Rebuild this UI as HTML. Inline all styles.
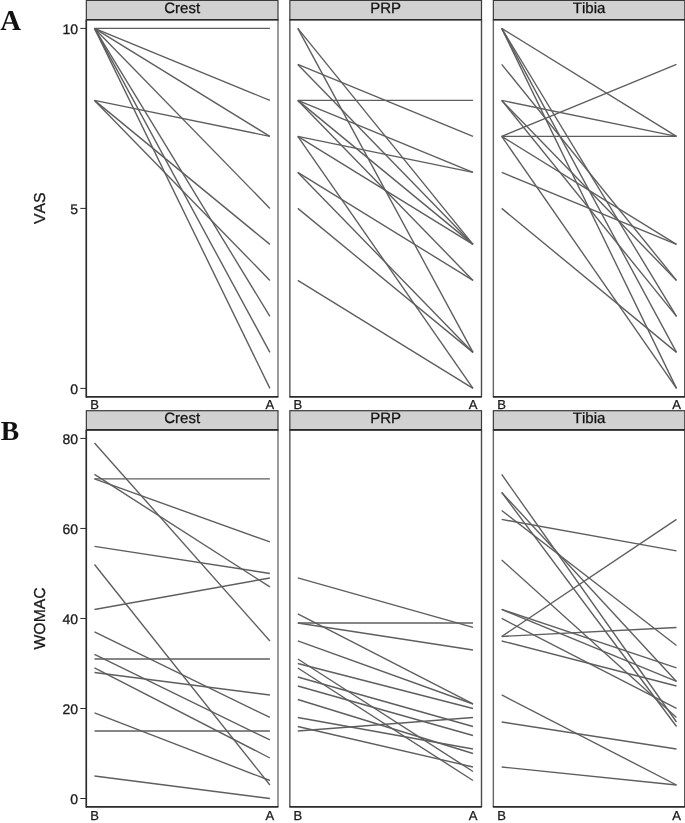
<!DOCTYPE html>
<html><head><meta charset="utf-8"><title>Figure</title>
<style>html,body{margin:0;padding:0;background:#fff}svg{display:block}text{font-family:"Liberation Sans",Arial,sans-serif;fill:#1a1a1a;text-rendering:geometricPrecision;font-kerning:none;stroke:#1a1a1a;stroke-width:0.3px}</style></head><body>
<svg width="685" height="823" viewBox="0 0 685 823">
<rect width="685" height="823" fill="#fff"/>
<g stroke="#5e5e5e" stroke-width="1.38" stroke-linecap="butt" fill="none">
<line x1="94.5" y1="28.40" x2="269.9" y2="28.40"/>
<line x1="94.5" y1="28.40" x2="269.9" y2="100.40"/>
<line x1="94.5" y1="28.40" x2="269.9" y2="136.40"/>
<line x1="94.5" y1="28.40" x2="269.9" y2="208.40"/>
<line x1="94.5" y1="28.40" x2="269.9" y2="316.40"/>
<line x1="94.5" y1="28.40" x2="269.9" y2="352.40"/>
<line x1="94.5" y1="28.40" x2="269.9" y2="388.40"/>
<line x1="94.5" y1="100.40" x2="269.9" y2="136.40"/>
<line x1="94.5" y1="100.40" x2="269.9" y2="244.40"/>
<line x1="94.5" y1="100.40" x2="269.9" y2="280.40"/>
</g>
<rect x="86.35" y="0.40" width="191.65" height="19.30" fill="#d1d1d1" stroke="#3a3a3a" stroke-width="1.2"/>
<line x1="86.35" y1="19.70" x2="86.35" y2="396.85" stroke="#2b2b2b" stroke-width="1.4"/>
<line x1="278.00" y1="19.70" x2="278.00" y2="396.85" stroke="#707070" stroke-width="1.4"/>
<line x1="85.95" y1="19.70" x2="278.40" y2="19.70" stroke="#2b2b2b" stroke-width="1.6"/>
<line x1="85.85" y1="396.85" x2="278.40" y2="396.85" stroke="#2b2b2b" stroke-width="1.7"/>
<line x1="86.35" y1="19.70" x2="86.35" y2="397.65" stroke="#2b2b2b" stroke-width="1.4"/>
<text x="182.2" y="12.7" font-size="15" text-anchor="middle" style="fill:#111">Crest</text>
<text x="94.5" y="408.9" font-size="13" text-anchor="middle">B</text>
<text x="269.9" y="408.9" font-size="13" text-anchor="middle">A</text>
<g stroke="#5e5e5e" stroke-width="1.38" stroke-linecap="butt" fill="none">
<line x1="297.8" y1="28.40" x2="473.0" y2="244.40"/>
<line x1="297.8" y1="28.40" x2="473.0" y2="352.40"/>
<line x1="297.8" y1="64.40" x2="473.0" y2="136.40"/>
<line x1="297.8" y1="64.40" x2="473.0" y2="244.40"/>
<line x1="297.8" y1="100.40" x2="473.0" y2="100.40"/>
<line x1="297.8" y1="100.40" x2="473.0" y2="172.40"/>
<line x1="297.8" y1="100.40" x2="473.0" y2="244.40"/>
<line x1="297.8" y1="100.40" x2="473.0" y2="280.40"/>
<line x1="297.8" y1="136.40" x2="473.0" y2="172.40"/>
<line x1="297.8" y1="136.40" x2="473.0" y2="244.40"/>
<line x1="297.8" y1="136.40" x2="473.0" y2="388.40"/>
<line x1="297.8" y1="172.40" x2="473.0" y2="280.40"/>
<line x1="297.8" y1="172.40" x2="473.0" y2="352.40"/>
<line x1="297.8" y1="208.40" x2="473.0" y2="352.40"/>
<line x1="297.8" y1="280.40" x2="473.0" y2="388.40"/>
</g>
<rect x="289.85" y="0.40" width="191.65" height="19.30" fill="#d1d1d1" stroke="#3a3a3a" stroke-width="1.2"/>
<line x1="289.85" y1="19.70" x2="289.85" y2="396.85" stroke="#555555" stroke-width="1.4"/>
<line x1="481.50" y1="19.70" x2="481.50" y2="396.85" stroke="#4a4a4a" stroke-width="1.4"/>
<line x1="289.45" y1="19.70" x2="481.90" y2="19.70" stroke="#2b2b2b" stroke-width="1.6"/>
<line x1="289.35" y1="396.85" x2="481.90" y2="396.85" stroke="#2b2b2b" stroke-width="1.7"/>
<text x="385.7" y="12.7" font-size="15" text-anchor="middle" style="fill:#111">PRP</text>
<text x="297.8" y="408.9" font-size="13" text-anchor="middle">B</text>
<text x="473.0" y="408.9" font-size="13" text-anchor="middle">A</text>
<g stroke="#5e5e5e" stroke-width="1.38" stroke-linecap="butt" fill="none">
<line x1="501.7" y1="28.40" x2="676.5" y2="136.40"/>
<line x1="501.7" y1="28.40" x2="676.5" y2="316.40"/>
<line x1="501.7" y1="28.40" x2="676.5" y2="352.40"/>
<line x1="501.7" y1="28.40" x2="676.5" y2="388.40"/>
<line x1="501.7" y1="64.40" x2="676.5" y2="280.40"/>
<line x1="501.7" y1="100.40" x2="676.5" y2="136.40"/>
<line x1="501.7" y1="100.40" x2="676.5" y2="280.40"/>
<line x1="501.7" y1="100.40" x2="676.5" y2="316.40"/>
<line x1="501.7" y1="136.40" x2="676.5" y2="64.40"/>
<line x1="501.7" y1="136.40" x2="676.5" y2="136.40"/>
<line x1="501.7" y1="136.40" x2="676.5" y2="244.40"/>
<line x1="501.7" y1="136.40" x2="676.5" y2="388.40"/>
<line x1="501.7" y1="172.40" x2="676.5" y2="244.40"/>
<line x1="501.7" y1="208.40" x2="676.5" y2="352.40"/>
</g>
<rect x="493.35" y="0.40" width="191.45" height="19.30" fill="#d1d1d1" stroke="#3a3a3a" stroke-width="1.2"/>
<line x1="493.35" y1="19.70" x2="493.35" y2="396.85" stroke="#666666" stroke-width="1.4"/>
<line x1="684.80" y1="19.70" x2="684.80" y2="396.85" stroke="#444444" stroke-width="1.4"/>
<line x1="492.95" y1="19.70" x2="685.20" y2="19.70" stroke="#2b2b2b" stroke-width="1.6"/>
<line x1="492.85" y1="396.85" x2="685.20" y2="396.85" stroke="#2b2b2b" stroke-width="1.7"/>
<text x="589.1" y="12.7" font-size="15" text-anchor="middle" style="fill:#111">Tibia</text>
<text x="501.7" y="408.9" font-size="13" text-anchor="middle">B</text>
<text x="676.5" y="408.9" font-size="13" text-anchor="middle">A</text>
<line x1="80.3" y1="388.40" x2="86.4" y2="388.40" stroke="#2b2b2b" stroke-width="1.0"/>
<text x="78.0" y="393.8" font-size="14" text-anchor="end">0</text>
<line x1="80.3" y1="208.40" x2="86.4" y2="208.40" stroke="#2b2b2b" stroke-width="1.0"/>
<text x="78.0" y="213.7" font-size="14" text-anchor="end">5</text>
<line x1="80.3" y1="28.40" x2="86.4" y2="28.40" stroke="#2b2b2b" stroke-width="1.0"/>
<text x="78.0" y="33.7" font-size="14" text-anchor="end">10</text>
<text transform="translate(44.9,208.3) rotate(-90)" font-size="15.8" text-anchor="middle">VAS</text>
<g stroke="#5e5e5e" stroke-width="1.38" stroke-linecap="butt" fill="none">
<line x1="94.5" y1="442.92" x2="269.9" y2="640.96"/>
<line x1="94.5" y1="474.43" x2="269.9" y2="586.95"/>
<line x1="94.5" y1="478.93" x2="269.9" y2="478.93"/>
<line x1="94.5" y1="478.93" x2="269.9" y2="541.94"/>
<line x1="94.5" y1="546.44" x2="269.9" y2="573.45"/>
<line x1="94.5" y1="564.45" x2="269.9" y2="785.00"/>
<line x1="94.5" y1="609.46" x2="269.9" y2="577.95"/>
<line x1="94.5" y1="631.96" x2="269.9" y2="717.48"/>
<line x1="94.5" y1="654.47" x2="269.9" y2="739.99"/>
<line x1="94.5" y1="658.97" x2="269.9" y2="658.97"/>
<line x1="94.5" y1="667.97" x2="269.9" y2="757.99"/>
<line x1="94.5" y1="672.47" x2="269.9" y2="694.98"/>
<line x1="94.5" y1="712.98" x2="269.9" y2="780.50"/>
<line x1="94.5" y1="730.99" x2="269.9" y2="730.99"/>
<line x1="94.5" y1="776.00" x2="269.9" y2="798.50"/>
</g>
<rect x="86.35" y="410.70" width="191.65" height="19.20" fill="#d1d1d1" stroke="#3a3a3a" stroke-width="1.2"/>
<line x1="86.35" y1="429.90" x2="86.35" y2="806.90" stroke="#2b2b2b" stroke-width="1.4"/>
<line x1="278.00" y1="429.90" x2="278.00" y2="806.90" stroke="#707070" stroke-width="1.4"/>
<line x1="85.95" y1="429.90" x2="278.40" y2="429.90" stroke="#2b2b2b" stroke-width="1.6"/>
<line x1="85.85" y1="806.90" x2="278.40" y2="806.90" stroke="#2b2b2b" stroke-width="1.7"/>
<line x1="86.35" y1="429.90" x2="86.35" y2="807.70" stroke="#2b2b2b" stroke-width="1.4"/>
<text x="182.2" y="423.0" font-size="15" text-anchor="middle" style="fill:#111">Crest</text>
<text x="94.5" y="819.8" font-size="13" text-anchor="middle">B</text>
<text x="269.9" y="819.8" font-size="13" text-anchor="middle">A</text>
<g stroke="#5e5e5e" stroke-width="1.38" stroke-linecap="butt" fill="none">
<line x1="297.8" y1="577.95" x2="473.0" y2="627.46"/>
<line x1="297.8" y1="613.96" x2="473.0" y2="703.98"/>
<line x1="297.8" y1="622.96" x2="473.0" y2="622.96"/>
<line x1="297.8" y1="622.96" x2="473.0" y2="649.97"/>
<line x1="297.8" y1="640.96" x2="473.0" y2="703.98"/>
<line x1="297.8" y1="658.97" x2="473.0" y2="771.49"/>
<line x1="297.8" y1="663.47" x2="473.0" y2="708.48"/>
<line x1="297.8" y1="667.97" x2="473.0" y2="780.50"/>
<line x1="297.8" y1="676.97" x2="473.0" y2="726.48"/>
<line x1="297.8" y1="685.98" x2="473.0" y2="735.49"/>
<line x1="297.8" y1="699.48" x2="473.0" y2="753.49"/>
<line x1="297.8" y1="717.48" x2="473.0" y2="748.99"/>
<line x1="297.8" y1="726.48" x2="473.0" y2="766.99"/>
<line x1="297.8" y1="730.99" x2="473.0" y2="717.48"/>
</g>
<rect x="289.85" y="410.70" width="191.65" height="19.20" fill="#d1d1d1" stroke="#3a3a3a" stroke-width="1.2"/>
<line x1="289.85" y1="429.90" x2="289.85" y2="806.90" stroke="#555555" stroke-width="1.4"/>
<line x1="481.50" y1="429.90" x2="481.50" y2="806.90" stroke="#4a4a4a" stroke-width="1.4"/>
<line x1="289.45" y1="429.90" x2="481.90" y2="429.90" stroke="#2b2b2b" stroke-width="1.6"/>
<line x1="289.35" y1="806.90" x2="481.90" y2="806.90" stroke="#2b2b2b" stroke-width="1.7"/>
<text x="385.7" y="423.0" font-size="15" text-anchor="middle" style="fill:#111">PRP</text>
<text x="297.8" y="819.8" font-size="13" text-anchor="middle">B</text>
<text x="473.0" y="819.8" font-size="13" text-anchor="middle">A</text>
<g stroke="#5e5e5e" stroke-width="1.38" stroke-linecap="butt" fill="none">
<line x1="501.7" y1="474.43" x2="676.5" y2="721.98"/>
<line x1="501.7" y1="492.43" x2="676.5" y2="726.48"/>
<line x1="501.7" y1="492.43" x2="676.5" y2="681.47"/>
<line x1="501.7" y1="510.44" x2="676.5" y2="645.47"/>
<line x1="501.7" y1="519.44" x2="676.5" y2="550.94"/>
<line x1="501.7" y1="559.95" x2="676.5" y2="717.48"/>
<line x1="501.7" y1="609.46" x2="676.5" y2="667.97"/>
<line x1="501.7" y1="609.46" x2="676.5" y2="681.47"/>
<line x1="501.7" y1="618.46" x2="676.5" y2="708.48"/>
<line x1="501.7" y1="636.46" x2="676.5" y2="519.44"/>
<line x1="501.7" y1="636.46" x2="676.5" y2="627.46"/>
<line x1="501.7" y1="640.96" x2="676.5" y2="685.98"/>
<line x1="501.7" y1="694.98" x2="676.5" y2="785.00"/>
<line x1="501.7" y1="721.98" x2="676.5" y2="748.99"/>
<line x1="501.7" y1="766.99" x2="676.5" y2="785.00"/>
</g>
<rect x="493.35" y="410.70" width="191.45" height="19.20" fill="#d1d1d1" stroke="#3a3a3a" stroke-width="1.2"/>
<line x1="493.35" y1="429.90" x2="493.35" y2="806.90" stroke="#666666" stroke-width="1.4"/>
<line x1="684.80" y1="429.90" x2="684.80" y2="806.90" stroke="#444444" stroke-width="1.4"/>
<line x1="492.95" y1="429.90" x2="685.20" y2="429.90" stroke="#2b2b2b" stroke-width="1.6"/>
<line x1="492.85" y1="806.90" x2="685.20" y2="806.90" stroke="#2b2b2b" stroke-width="1.7"/>
<text x="589.1" y="423.0" font-size="15" text-anchor="middle" style="fill:#111">Tibia</text>
<text x="501.7" y="819.8" font-size="13" text-anchor="middle">B</text>
<text x="676.5" y="819.8" font-size="13" text-anchor="middle">A</text>
<line x1="80.3" y1="798.50" x2="86.4" y2="798.50" stroke="#2b2b2b" stroke-width="1.0"/>
<text x="78.0" y="803.9" font-size="14" text-anchor="end">0</text>
<line x1="80.3" y1="708.48" x2="86.4" y2="708.48" stroke="#2b2b2b" stroke-width="1.0"/>
<text x="78.0" y="713.8" font-size="14" text-anchor="end">20</text>
<line x1="80.3" y1="618.46" x2="86.4" y2="618.46" stroke="#2b2b2b" stroke-width="1.0"/>
<text x="78.0" y="623.8" font-size="14" text-anchor="end">40</text>
<line x1="80.3" y1="528.44" x2="86.4" y2="528.44" stroke="#2b2b2b" stroke-width="1.0"/>
<text x="78.0" y="533.8" font-size="14" text-anchor="end">60</text>
<line x1="80.3" y1="438.42" x2="86.4" y2="438.42" stroke="#2b2b2b" stroke-width="1.0"/>
<text x="78.0" y="443.8" font-size="14" text-anchor="end">80</text>
<text transform="translate(44.9,618.4) rotate(-90)" font-size="15.8" text-anchor="middle">WOMAC</text>
<text x="0.2" y="30" font-size="28.8" font-weight="bold" style="font-family:'Liberation Serif','Times New Roman',serif;fill:#111;stroke:none">A</text>
<text x="0.7" y="439.9" font-size="27.6" font-weight="bold" style="font-family:'Liberation Serif','Times New Roman',serif;fill:#111;stroke:none">B</text>
</svg></body></html>
